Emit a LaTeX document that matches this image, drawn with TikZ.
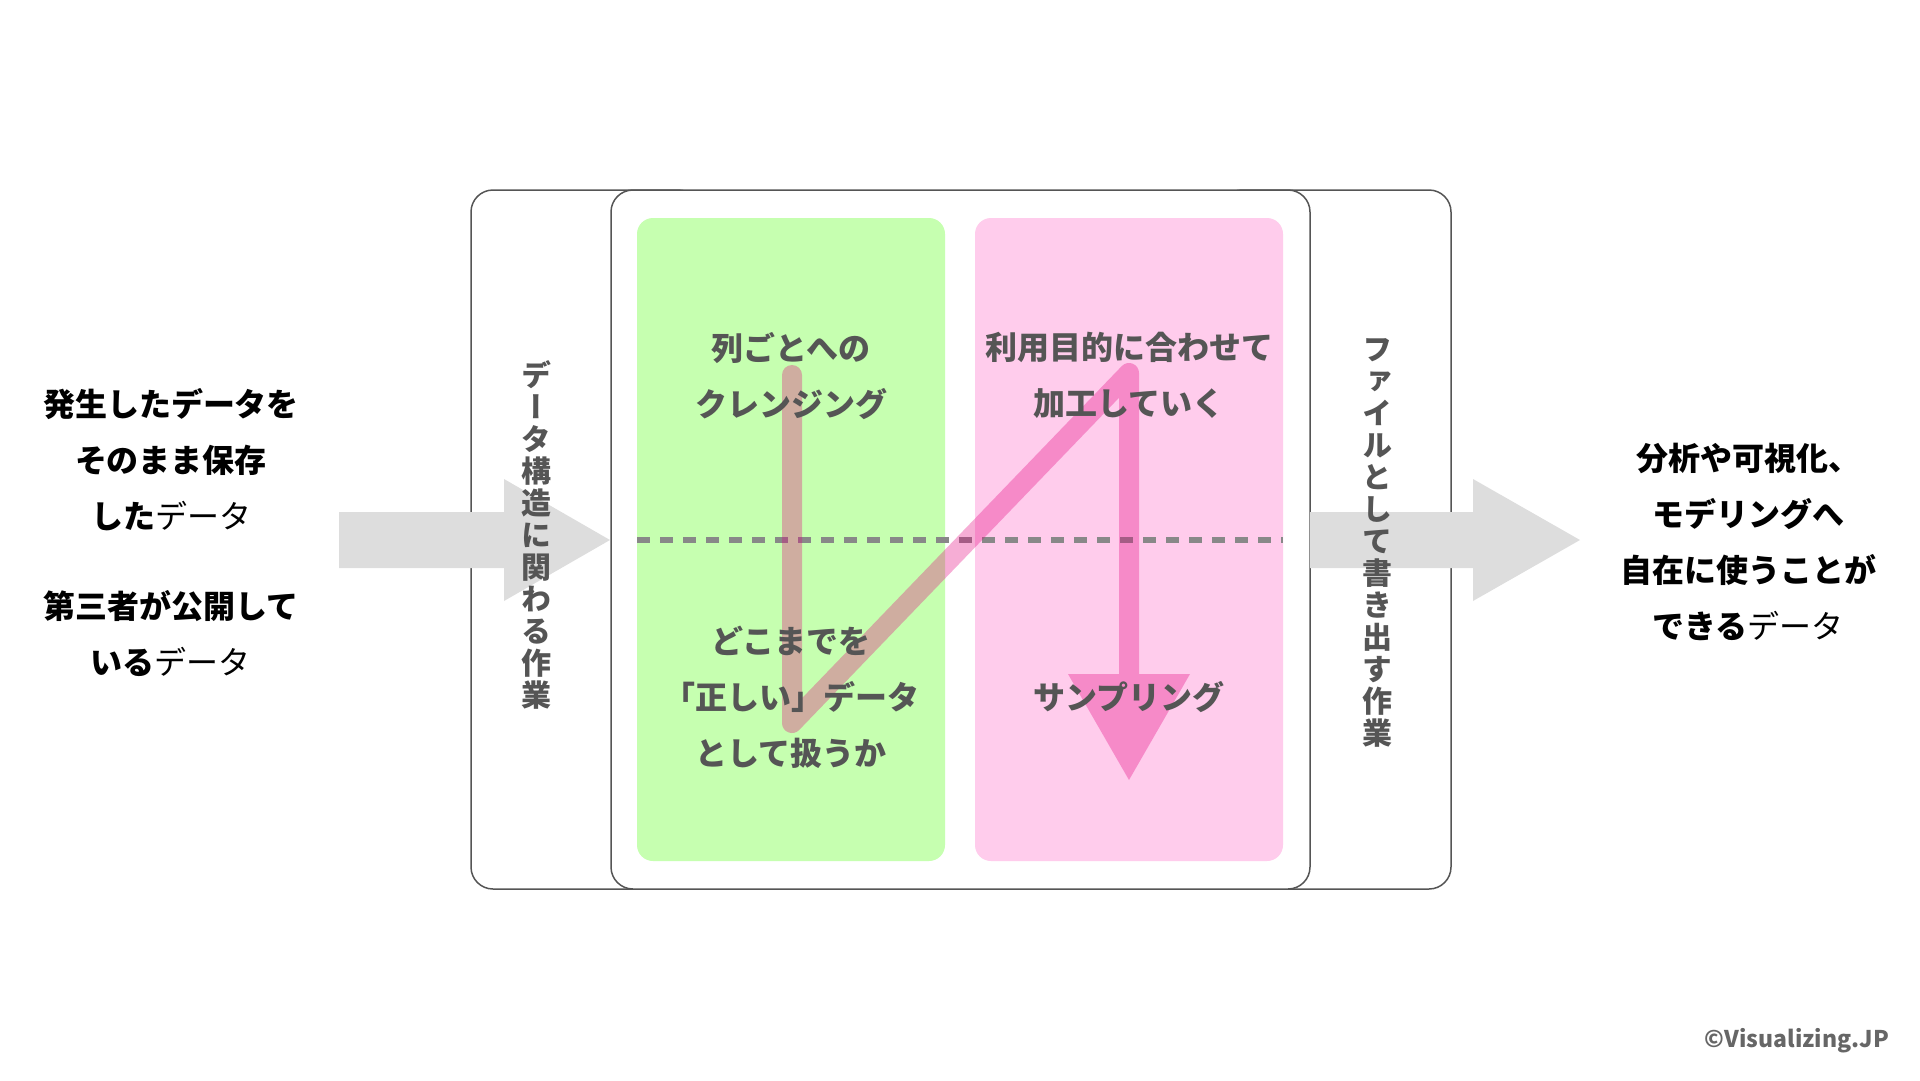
\documentclass[tikz,border=0pt]{standalone}
\usepackage{fontspec}
\setmainfont{Noto Sans CJK JP}
\newfontfamily\tatefont{Noto Sans CJK JP}[RawFeature=+vert]
\definecolor{framegray}{RGB}{85,85,85}
\definecolor{textgray}{RGB}{85,85,85}
\definecolor{dashgray}{RGB}{136,136,136}
\definecolor{arrowgray}{RGB}{221,221,221}
\definecolor{panelgreen}{RGB}{198,255,176}
\definecolor{panelpink}{RGB}{255,204,236}
\definecolor{flowpink}{RGB}{228,0,127}
\definecolor{copygray}{RGB}{102,102,102}
\begin{document}
\begin{tikzpicture}[x=1pt, y=-1pt,
  frame/.style={draw=framegray, line width=1.5pt, rounded corners=22pt},
  panel/.style={rounded corners=16pt},
  label/.style={align=center, text=textgray, font=\bfseries\fontsize{32}{56}\selectfont},
  side/.style={align=center, font=\bfseries\fontsize{32}{56}\selectfont},
  tate/.style={align=center, text=textgray, font=\tatefont\bfseries\fontsize{30}{32}\selectfont}]
  \useasboundingbox (0,0) rectangle (1920,1080);
  \draw[frame] (471,190) rectangle (700,889);
  \draw[frame] (1220,190) rectangle (1451,889);
  \draw[frame, fill=white] (611,190) rectangle (1310,889);
  \fill[panelgreen, panel] (637,218) rectangle (945,861);
  \fill[panelpink, panel] (975,218) rectangle (1283,861);
  \draw[dashgray, line width=6pt, dash pattern=on 13pt off 10pt] (637,540) -- (1283,540);
  \coordinate (clean) at (792,375); \coordinate (judge) at (792,723);
  \coordinate (shape) at (1129,373); \coordinate (sample) at (1129,676);
  \coordinate (tip) at (1129,780);
  \begin{scope}[transparency group, opacity=0.32]
    \draw[flowpink, line width=20pt, line cap=round, line join=round] (clean) -- (judge) -- (shape) -- (sample);
    \fill[flowpink] (sample) ++(-61,-2) -- ++(122,0) -- (tip) -- cycle;
  \end{scope}
  \coordinate (inTip) at (610,540); \coordinate (outTip) at (1580,540);
  \fill[arrowgray] (inTip) -- ++(-106,-61) -- ++(0,33) -- ++(-165,0) -- ++(0,56) -- ++(165,0) -- ++(0,33) -- cycle;
  \fill[arrowgray] (outTip) -- ++(-107,-61) -- ++(0,33) -- ++(-163,0) -- ++(0,56) -- ++(163,0) -- ++(0,33) -- cycle;
  \node[side] (raw) at (171,460) {発生したデータを\\そのまま保存\\した{\mdseries データ}};
  \node[side] (open) at (171,634) {第三者が公開して\\いる{\mdseries データ}};
  \node[side] (ready) at (1748,542) {分析や可視化、\\モデリングへ\\自在に使うことが\\できる{\mdseries データ}};
  \node[tate] (struct) at (536,535) {デ\\ー\\タ\\構\\造\\に\\関\\わ\\る\\作\\業};
  \node[tate] (export) at (1377,543) {フ\\ァ\\イ\\ル\\と\\し\\て\\書\\き\\出\\す\\作\\業};
  \node[label] (colclean) at (791,376) {列ごとへの\\クレンジング};
  \node[label] (valid) at (791,697) {どこまでを\\「正しい」データ\\として扱うか};
  \node[label] (purpose) at (1129,375) {利用目的に合わせて\\加工していく};
  \node[label] (sampling) at (1129,697) {サンプリング};
  \node[anchor=east, inner sep=0pt, text=copygray, font=\bfseries\fontsize{23}{23}\selectfont] (credit) at (1889,1041) {©Visualizing.JP};
\end{tikzpicture}
\end{document}
